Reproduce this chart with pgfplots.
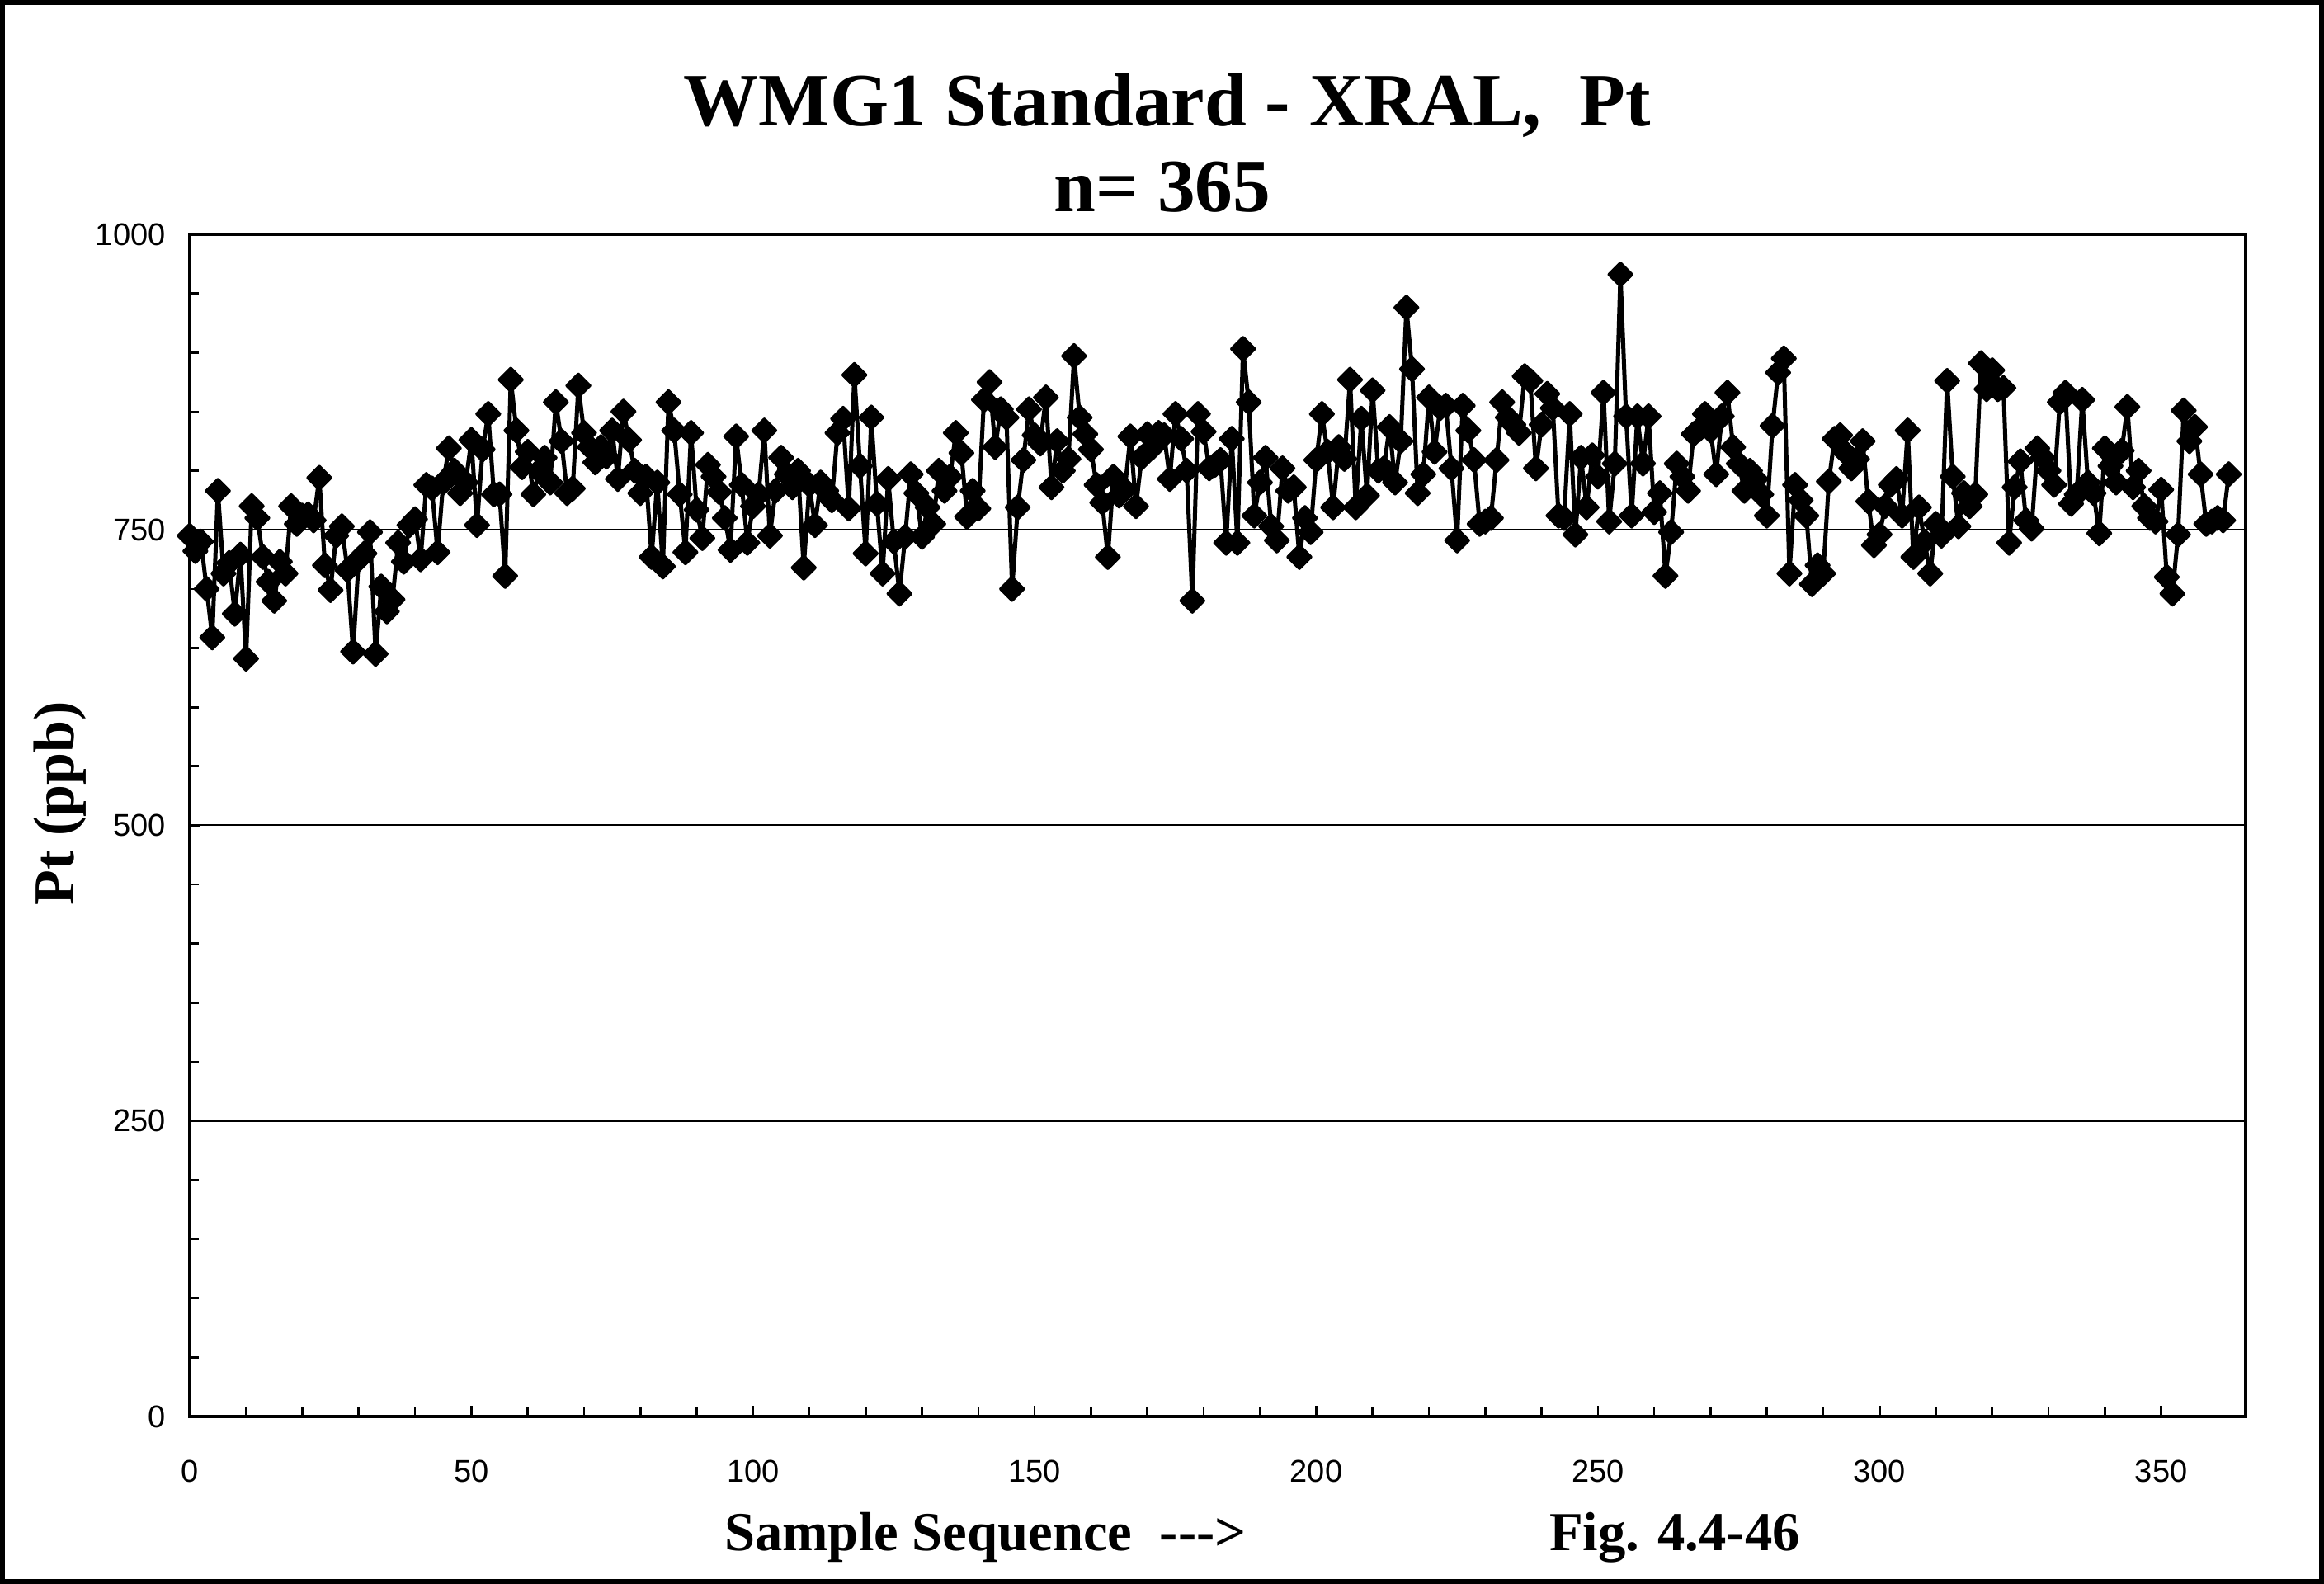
\documentclass[border=0pt]{standalone}
\usepackage{pgfplots}
\pgfplotsset{compat=1.18}
\usepackage{fontspec}
\setmainfont{Liberation Serif}
\newfontfamily\tnr{Liberation Serif}
\newfontfamily\arial{Liberation Sans}
\pgfplotstableread{
x y
0 745
1 732
2 740
3 700
4 659
5 783
6 713
7 722
8 679
9 729
10 641
11 770
12 760
13 727
14 706
15 690
16 723
17 713
18 770
19 755
20 762
21 763
22 758
23 794
24 720
25 699
26 745
27 753
28 716
29 647
30 725
31 730
32 748
33 645
34 702
35 681
36 691
37 739
38 723
39 754
40 759
41 725
42 788
43 785
44 731
45 790
46 819
47 800
48 781
49 790
50 826
51 754
52 818
53 848
54 780
55 780
56 711
57 877
58 834
59 803
60 816
61 780
62 800
63 811
64 790
65 858
66 825
67 781
68 785
69 872
70 832
71 820
72 807
73 820
74 812
75 834
76 793
77 850
78 826
79 800
80 781
81 795
82 727
83 790
84 719
85 858
86 834
87 780
88 731
89 832
90 767
91 743
92 805
93 795
94 782
95 760
96 733
97 829
98 788
99 739
100 770
101 780
102 834
103 745
104 783
105 811
106 797
107 786
108 800
109 718
110 788
111 754
112 790
113 783
114 775
115 832
116 844
117 768
118 881
119 804
120 730
121 845
122 772
123 713
124 793
125 740
126 696
127 744
128 797
129 781
130 744
131 769
132 755
133 800
134 783
135 795
136 832
137 815
138 761
139 783
140 768
141 860
142 875
143 820
144 852
145 845
146 700
147 769
148 809
149 852
150 830
151 823
152 862
153 786
154 825
155 800
156 810
157 897
158 845
159 831
160 818
161 788
162 773
163 727
164 795
165 779
166 784
167 829
168 770
169 811
170 831
171 820
172 832
173 830
174 793
175 848
176 827
177 800
178 690
179 848
180 833
181 802
182 805
183 809
184 739
185 827
186 739
187 903
188 858
189 762
190 790
191 811
192 753
193 741
194 802
195 783
196 786
197 727
198 760
199 748
200 809
201 848
202 816
203 769
204 820
205 810
206 877
207 769
208 844
209 779
210 868
211 800
212 802
213 837
214 790
215 825
216 938
217 886
218 781
219 797
220 862
221 816
222 853
223 855
224 802
225 741
226 855
227 834
228 809
229 755
230 757
231 760
232 809
233 858
234 845
235 839
236 832
237 880
238 876
239 802
240 839
241 865
242 853
243 762
244 760
245 848
246 746
247 811
248 769
249 813
250 795
251 866
252 757
253 806
254 966
255 846
256 762
257 846
258 806
259 846
260 765
261 781
262 711
263 748
264 806
265 795
266 783
267 831
268 835
269 848
270 834
271 797
272 846
273 866
274 820
275 806
276 783
277 800
278 793
279 780
280 762
281 838
282 883
283 895
284 713
285 788
286 775
287 762
288 704
289 720
290 713
291 791
292 827
293 830
294 815
295 802
296 810
297 825
298 774
299 737
300 746
301 770
302 788
303 793
304 762
305 834
306 727
307 769
308 740
309 713
310 755
311 745
312 876
313 795
314 753
315 781
316 770
317 780
318 891
319 869
320 885
321 869
322 870
323 739
324 786
325 808
326 758
327 751
328 819
329 811
330 800
331 788
332 858
333 866
334 772
335 780
336 860
337 790
338 781
339 747
340 819
341 804
342 790
343 817
344 854
345 786
346 800
347 770
348 760
349 757
350 784
351 710
352 696
353 746
354 851
355 825
356 837
357 797
358 755
359 757
360 760
361 758
362 797
}\datatable
\begin{document}
\begin{tikzpicture}
\path[use as bounding box] (-34.5pt,-30.45pt) rectangle (388.05pt,257.55pt);
\draw[line width=0.9pt] (-34.05pt,-30pt) rectangle (387.6pt,257.1pt);
\begin{axis}[
  at={(0pt,0pt)}, anchor=south west,
  scale only axis, width=373.8pt, height=214.95pt,
  xmin=0, xmax=365, ymin=0, ymax=1000,
  xtick={0,50,...,350}, ytick={0,250,...,1000},
  minor x tick num=4, minor y tick num=4,
  tick align=inside, xtick pos=left, ytick pos=left,
  major tick length=2pt, minor tick length=1.6pt,
  ymajorgrids, major grid style={black, line width=0.3pt},
  axis line style={black, line width=0.6pt},
  every tick/.style={black, line width=0.4pt},
  ticklabel style={font=\arial\fontsize{5.7}{6.5}\selectfont},
  /pgf/number format/assume math mode=true,
  /pgf/number format/1000 sep={},
  xticklabel shift=4.4pt, yticklabel shift=0.9pt,
  clip=false,
]
\addplot[black, line width=0.75pt, line join=round, mark=square*, mark size=1.45pt,
  mark options={rotate=45, solid, fill=black, line width=0.6pt}] table[x=x, y=y] {\datatable};
\end{axis}
\node[anchor=base, font=\tnr\bfseries\fontsize{13.7}{16}\selectfont] at (177.7pt,234.6pt) {WMG1 Standard - XRAL,\ \ Pt};
\node[anchor=base, font=\tnr\bfseries\fontsize{13.7}{16}\selectfont] at (176.8pt,219pt) {n= 365};
\node[anchor=base west, inner sep=0pt, font=\tnr\bfseries\fontsize{10}{12}\selectfont] at (97pt,-24.4pt) {Sample Sequence\ \ --->};
\node[anchor=base west, inner sep=0pt, font=\tnr\bfseries\fontsize{10}{12}\selectfont] at (247pt,-24.4pt) {Fig. 4.4-46};
\node[anchor=base, rotate=90, inner sep=0pt, font=\tnr\bfseries\fontsize{10.5}{12}\selectfont] at (-21pt,111.5pt) {Pt (ppb)};
\end{tikzpicture}
\end{document}
